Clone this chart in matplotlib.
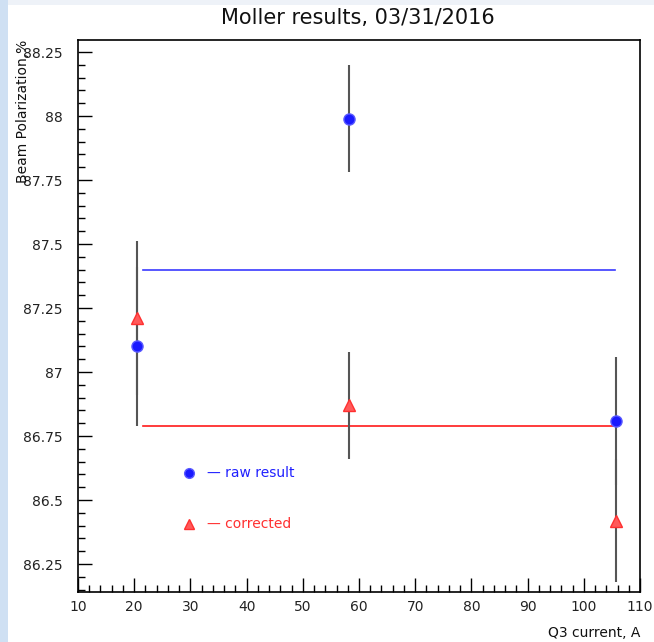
import matplotlib
matplotlib.use("Agg")
import matplotlib.pyplot as plt
import numpy as np
from matplotlib.ticker import MultipleLocator

# Data
current = [20.5, 58.2, 105.8]
raw_pol = [87.10, 87.99, 86.81]
raw_err = [0.31, 0.21, 0.25]
corr_pol = [87.21, 86.87, 86.42]
corr_err = [0.30, 0.21, 0.24]
raw_mean = 87.40
corr_mean = 86.79
mean_range = [21.5, 105.5]

plt.rcParams['font.family'] = ['DejaVu Sans']

fig = plt.figure(figsize=(6.54, 6.42), dpi=100)
fig.patch.set_facecolor('white')

# screenshot-like background strips
bg = fig.add_axes([0, 0, 1, 1], zorder=-10)
bg.set_xlim(0, 654); bg.set_ylim(642, 0); bg.axis('off')
bg.add_patch(plt.Rectangle((0, 0), 654, 5, color='#eef2f8', lw=0))
bg.add_patch(plt.Rectangle((0, 0), 8, 642, color='#cfe0f3', lw=0))

ax = fig.add_axes([78/654, 1-592/642, 562/654, 552/642])
ax.set_xlim(10, 110)
ax.set_ylim(86.141, 88.297)

for s in ax.spines.values():
    s.set_linewidth(1.2)
    s.set_color('black')

ax.xaxis.set_major_locator(MultipleLocator(10))
ax.xaxis.set_minor_locator(MultipleLocator(2))
ax.yaxis.set_major_locator(MultipleLocator(0.25))
ax.yaxis.set_minor_locator(MultipleLocator(0.05))
ax.tick_params(axis='both', which='major', direction='in', length=10, width=1, labelsize=10, colors='black', labelcolor='#222222')
ax.tick_params(axis='y', which='major', pad=11)
ax.tick_params(axis='x', which='major', pad=6)
ax.tick_params(axis='both', which='minor', direction='in', length=5, width=1)
ax.tick_params(top=False, right=False)
ax.yaxis.set_major_formatter(matplotlib.ticker.FuncFormatter(lambda v, p: ('%.2f' % v).rstrip('0').rstrip('.')))

# error bars
ax.errorbar(current, raw_pol, yerr=raw_err, fmt='none', ecolor='#555555', elinewidth=1.5, capsize=0, zorder=2)
ax.errorbar(current, corr_pol, yerr=corr_err, fmt='none', ecolor='#555555', elinewidth=1.5, capsize=0, zorder=2)

# mean lines
ax.plot(mean_range, [raw_mean, raw_mean], color='#3a3aff', lw=1.2, zorder=1)
ax.plot(mean_range, [corr_mean, corr_mean], color='#ff1a1a', lw=1.2, zorder=1)

# markers
ax.plot(current, raw_pol, 'o', color='#1a1aff', ms=8, mec='#5a5aff', mew=1, zorder=3)
ax.plot(current, corr_pol, '^', color='#ff5a5a', ms=8, mec='#ff3030', mew=1, zorder=3)

# legend text
ax.plot([29.7], [86.605], 'o', color='#1a1aff', ms=7, mec='#5a5aff', zorder=3)
ax.text(33.0, 86.605, '— raw result', color='#2020ff', fontsize=10, va='center', ha='left')
ax.plot([29.7], [86.406], '^', color='#ff5a5a', ms=7, mec='#ff3030', zorder=3)
ax.text(33.0, 86.406, '— corrected', color='#ff3030', fontsize=10, va='center', ha='left')

fig.text(358/654, 1-18/642, 'Moller results, 03/31/2016', ha='center', va='center', fontsize=15, color='#111111')
fig.text(640/654, 1-633/642, 'Q3 current, A', ha='right', va='center', fontsize=10, color='#111111')
fig.text(23/654, 1-40/642, 'Beam Polarization,%', rotation=90, ha='center', va='top', fontsize=10, color='#111111')

fig.savefig('out.png', dpi=100)
